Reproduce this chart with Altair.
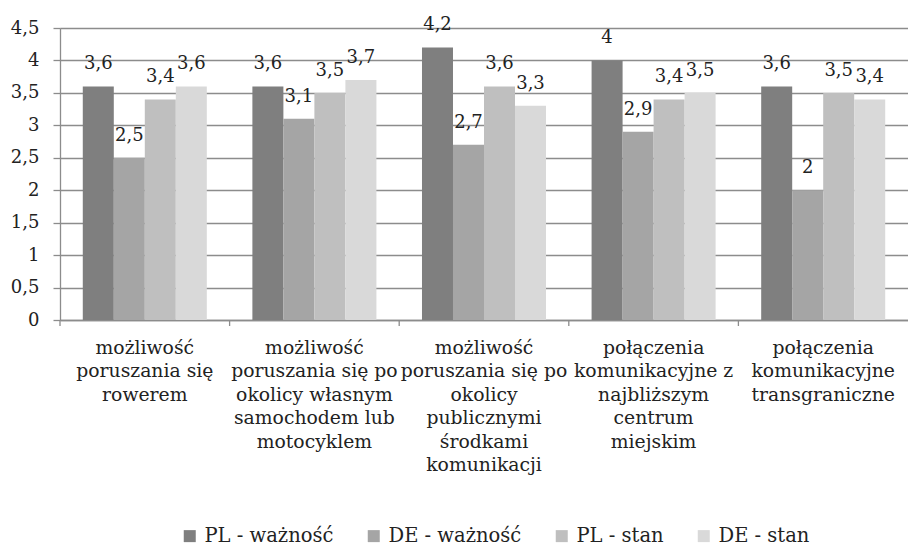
import altair as alt
import pandas as pd

categories = [
    "możliwość\nporuszania się\nrowerem",
    "możliwość\nporuszania się po\nokolicy własnym\nsamochodem lub\nmotocyklem",
    "możliwość\nporuszania się po\nokolicy\npublicznymi\nśrodkami\nkomunikacji",
    "połączenia\nkomunikacyjne z\nnajbliższym\ncentrum\nmiejskim",
    "połączenia\nkomunikacyjne\ntransgraniczne",
]
series = ["PL - ważność", "DE - ważność", "PL - stan", "DE - stan"]
pl_waznosc = [3.6, 3.6, 4.2, 4.0, 3.6]
de_waznosc = [2.5, 3.1, 2.7, 2.9, 2.0]
pl_stan = [3.4, 3.5, 3.6, 3.4, 3.5]
de_stan = [3.6, 3.7, 3.3, 3.5, 3.4]
colors = ["#7f7f7f", "#a5a5a5", "#bfbfbf", "#d9d9d9"]
y_ticks = [0, 0.5, 1, 1.5, 2, 2.5, 3, 3.5, 4, 4.5]

rows = []
for s, vals in zip(series, [pl_waznosc, de_waznosc, pl_stan, de_stan]):
    for c, v in zip(categories, vals):
        rows.append({"cat": c, "series": s, "value": v,
                     "label": f"{v:g}".replace(".", ",")})
df = pd.DataFrame(rows)
cat_df = pd.DataFrame({"cat": categories})

FONT = "DejaVu Serif"
TXT = "#222222"
GRID = "#8c8c8c"

x_axis = alt.Axis(labelExpr="split(datum.label, '\\n')", labelAngle=0,
                  labelLimit=0, ticks=False, tickSize=0, labelPadding=18,
                  labelFontSize=18.8, labelLineHeight=23.5, labelColor=TXT,
                  labelFont=FONT, domainColor=GRID, domainWidth=1.3,
                  grid=False)
x_scale = alt.Scale(paddingInner=0, paddingOuter=0)
x_enc = alt.X("cat:N", sort=categories, title=None, scale=x_scale, axis=x_axis)
xo_enc = alt.XOffset("series:N", sort=series,
                     scale=alt.Scale(paddingInner=0, paddingOuter=0.735))
y_axis = alt.Axis(values=y_ticks, tickCount=10,
                  labelExpr="replace(toString(datum.value), '.', ',')",
                  labelFontSize=18, labelFont=FONT, labelColor=TXT,
                  tickSize=7, tickColor=GRID, tickWidth=1.3,
                  gridColor=GRID, gridWidth=1.3, domainColor=GRID,
                  domainWidth=1.3, labelPadding=14, labelOverlap=False)
y_enc = alt.Y("value:Q", title=None,
              scale=alt.Scale(domain=[0, 4.5], nice=False), axis=y_axis)

bars = alt.Chart(df).mark_bar().encode(
    x=x_enc,
    xOffset=xo_enc,
    y=y_enc,
    color=alt.Color("series:N", sort=series,
                    scale=alt.Scale(domain=series, range=colors),
                    legend=alt.Legend(title=None, orient="none", direction="horizontal",
                                      legendX=120, legendY=498, padding=0,
                                      symbolType="square", symbolSize=144,
                                      symbolStrokeWidth=0, labelFontSize=19.5,
                                      labelFont=FONT, labelColor=TXT,
                                      labelOffset=5, columnPadding=30, labelLimit=0)),
)

texts = alt.Chart(df).mark_text(dy=-17, baseline="alphabetic", fontSize=18,
                                font=FONT, color=TXT).encode(
    x=x_enc,
    xOffset=xo_enc,
    y=y_enc,
    text="label:N",
)

seps = alt.Chart(cat_df).mark_rule(color=GRID, strokeWidth=1.3).encode(
    x=alt.X("cat:N", sort=categories, bandPosition=0, title=None,
            scale=x_scale, axis=x_axis),
    y=alt.value(292),
    y2=alt.value(298),
)

chart = alt.layer(bars, seps, texts).properties(
    width=848, height=292,
    autosize=alt.AutoSizeParams(type="none"),
    padding={"left": 52, "top": 20, "right": 0, "bottom": 229},
).configure_view(stroke="transparent").configure(background="white")

chart.save("out.html", embed_options={"renderer": "svg", "actions": False})
